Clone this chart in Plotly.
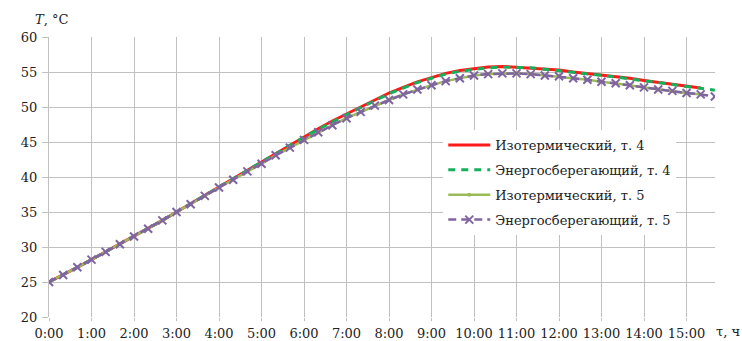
import plotly.graph_objects as go

# Time of day, every 20 minutes
times = ["0:00", "0:20", "0:40", "1:00", "1:20", "1:40", "2:00", "2:20", "2:40",
         "3:00", "3:20", "3:40", "4:00", "4:20", "4:40", "5:00", "5:20", "5:40",
         "6:00", "6:20", "6:40", "7:00", "7:20", "7:40", "8:00", "8:20", "8:40",
         "9:00", "9:20", "9:40", "10:00", "10:20", "10:40", "11:00", "11:20", "11:40",
         "12:00", "12:20", "12:40", "13:00", "13:20", "13:40", "14:00", "14:20", "14:40",
         "15:00", "15:20", "15:40"]

# Temperature, °C
iso_p4 = [25.0, 26.0, 27.1, 28.2, 29.3, 30.4, 31.5, 32.7, 33.8,
          35.0, 36.2, 37.4, 38.6, 39.8, 41.0, 42.2, 43.4, 44.6,
          45.8, 46.9, 48.0, 49.0, 50.0, 51.0, 52.0, 52.8, 53.6,
          54.2, 54.8, 55.2, 55.5, 55.7, 55.8, 55.7, 55.6, 55.4,
          55.3, 55.0, 54.8, 54.6, 54.3, 54.1, 53.8, 53.5, 53.3,
          53.0, 52.7]
eco_p4 = [25.0, 26.0, 27.1, 28.2, 29.3, 30.4, 31.5, 32.7, 33.8,
          35.0, 36.2, 37.4, 38.6, 39.8, 41.0, 42.2, 43.4, 44.5,
          45.7, 46.8, 47.9, 48.9, 49.9, 50.9, 51.9, 52.7, 53.5,
          54.1, 54.7, 55.1, 55.4, 55.6, 55.7, 55.7, 55.6, 55.4,
          55.2, 55.0, 54.8, 54.5, 54.3, 54.0, 53.8, 53.5, 53.2,
          52.9, 52.6, 52.4]
iso_p5 = [25.0, 26.0, 27.1, 28.2, 29.3, 30.4, 31.5, 32.6, 33.8,
          35.0, 36.1, 37.3, 38.5, 39.6, 40.8, 41.9, 43.1, 44.2,
          45.3, 46.4, 47.4, 48.4, 49.3, 50.2, 51.0, 51.8, 52.5,
          53.1, 53.7, 54.1, 54.5, 54.7, 54.8, 54.8, 54.7, 54.5,
          54.4, 54.1, 53.9, 53.6, 53.4, 53.1, 52.8, 52.5, 52.3,
          52.0, 51.8]
eco_p5 = [25.0, 26.0, 27.1, 28.2, 29.3, 30.4, 31.5, 32.6, 33.8,
          35.0, 36.1, 37.3, 38.5, 39.6, 40.8, 41.9, 43.1, 44.2,
          45.3, 46.4, 47.4, 48.4, 49.3, 50.2, 51.0, 51.8, 52.5,
          53.1, 53.7, 54.1, 54.5, 54.7, 54.8, 54.8, 54.7, 54.5,
          54.4, 54.1, 53.9, 53.6, 53.4, 53.1, 52.8, 52.5, 52.3,
          52.0, 51.8, 51.5]

hour_ticks = ["0:00", "1:00", "2:00", "3:00", "4:00", "5:00", "6:00", "7:00",
              "8:00", "9:00", "10:00", "11:00", "12:00", "13:00", "14:00", "15:00"]


def to_hours(label):
    h, m = label.split(":")
    return int(h) + int(m) / 60.0


x_all = [to_hours(t) for t in times]
tick_pos = [to_hours(t) for t in hour_ticks]

FONT = "DejaVu Serif"
GRID = "#c0c0c0"
TXT = "#222222"

fig = go.Figure()
fig.add_trace(go.Scatter(
    x=x_all[:len(iso_p4)], y=iso_p4, mode="lines", name="Изотермический, т. 4",
    line=dict(color="#ff1a1a", width=3), legendgroup="a"))
fig.add_trace(go.Scatter(
    x=x_all[:len(eco_p4)], y=eco_p4, mode="lines", name="Энергосберегающий, т. 4",
    line=dict(color="#14b05a", width=3, dash="7px,6px"), legendgroup="b"))
fig.add_trace(go.Scatter(
    x=x_all[:len(iso_p5)], y=iso_p5, mode="lines+markers", name="Изотермический, т. 5",
    line=dict(color="#9bbb59", width=2.5),
    marker=dict(symbol="circle", size=4, color="#9bbb59"), legendgroup="c"))
fig.add_trace(go.Scatter(
    x=x_all[:len(eco_p5)], y=eco_p5, mode="lines+markers", name="Энергосберегающий, т. 5",
    line=dict(color="#8064a2", width=2.5, dash="8px,5px"),
    marker=dict(symbol="x-thin", size=8, color="#8064a2",
                line=dict(color="#8064a2", width=2)), legendgroup="d"))

fig.update_layout(
    width=742, height=341,
    margin=dict(l=49, r=27, t=37, b=24),
    paper_bgcolor="white", plot_bgcolor="white",
    font=dict(family=FONT, size=13, color=TXT),
    showlegend=True,
    legend=dict(
        x=0.592, y=0.668, xanchor="left", yanchor="top",
        bgcolor="white", borderwidth=0, itemwidth=42,
        font=dict(family=FONT, size=13, color=TXT),
        traceorder="grouped", tracegroupgap=5,
    ),
    xaxis=dict(
        range=[0, 15.67], tickmode="array", tickvals=tick_pos, ticktext=hour_ticks,
        showgrid=True, gridcolor=GRID, gridwidth=1,
        zeroline=False, showline=False, automargin=False,
        ticks="outside", ticklen=3, tickcolor=GRID, ticklabelstandoff=1,
        tickfont=dict(family=FONT, size=13, color=TXT),
    ),
    yaxis=dict(
        range=[20, 60], tickmode="array", tickvals=[20, 25, 30, 35, 40, 45, 50, 55, 60],
        showgrid=True, gridcolor=GRID, gridwidth=1,
        zeroline=False, showline=True, linecolor=GRID, automargin=False,
        ticks="outside", ticklen=6, tickcolor=GRID, ticklabelstandoff=2,
        tickfont=dict(family=FONT, size=13, color=TXT),
    ),
    annotations=[
        dict(text="<i>T</i>, °C", xref="paper", yref="paper", x=-0.024, y=1.064,
             xanchor="left", yanchor="middle", showarrow=False,
             font=dict(family=FONT, size=13, color=TXT)),
        dict(text="τ, ч", xref="paper", yref="paper", x=0.999, y=-0.052,
             xanchor="left", yanchor="middle", showarrow=False,
             font=dict(family=FONT, size=13, color=TXT)),
    ],
)

fig.write_html("out.html")
